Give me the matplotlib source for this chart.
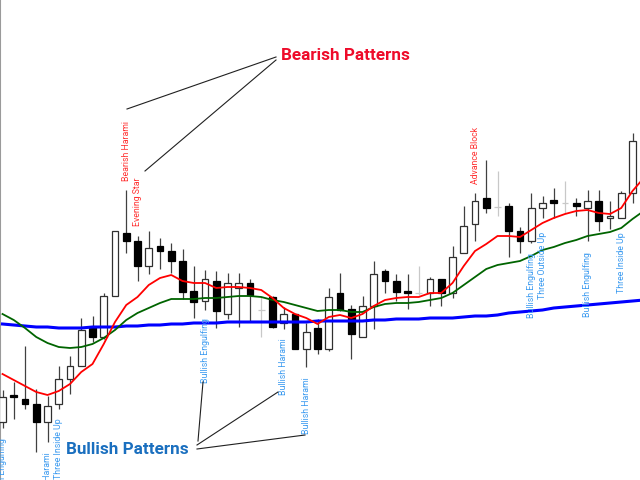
import matplotlib
matplotlib.use("Agg")
import matplotlib.pyplot as plt
import numpy as np
from matplotlib.lines import Line2D

# ---- candle data (price units, one value per bar) ----
opens = [58, 85, 81, 76, 58, 76, 101, 114, 153, 143, 184, 247, 239, 214, 234, 229, 219, 189, 179, 199,
         166, 192, 197, 170, 183, 157, 166, 131, 152, 131, 187, 171, 143, 174, 209, 199, 189, 187, 187, 201,
         187, 227, 256, 282, 273, 274, 249, 239, 272, 280, 277, 277, 272, 279, 262, 262, 287]
highs = [90, 98, 134, 91, 84, 114, 124, 162, 164, 187, 249, 290, 244, 249, 242, 237, 231, 214, 210, 209,
         207, 207, 201, 183, 184, 173, 166, 157, 161, 192, 207, 175, 184, 219, 211, 206, 206, 214, 203, 201,
         234, 274, 287, 320, 309, 277, 253, 287, 284, 292, 299, 282, 290, 290, 279, 289, 347]
lows = [52, 61, 71, 28, 38, 71, 86, 114, 138, 141, 184, 227, 199, 206, 211, 207, 181, 162, 170, 152,
        161, 153, 158, 143, 152, 151, 131, 113, 126, 129, 169, 121, 143, 151, 187, 179, 171, 185, 174, 174,
        182, 227, 239, 267, 264, 223, 227, 237, 262, 262, 267, 264, 239, 249, 251, 262, 277]
closes = [83, 83, 76, 58, 74, 101, 114, 150, 143, 184, 249, 239, 214, 232, 229, 219, 188, 178, 201, 169,
          197, 197, 185, 170, 153, 166, 131, 148, 131, 183, 170, 146, 174, 206, 199, 188, 187, 187, 201, 187,
          223, 254, 279, 272, 273, 249, 239, 272, 277, 277, 277, 274, 279, 259, 264, 287, 339]

# ---- moving averages (last point lies just past the right edge) ----
ma_fast = [106, 100, 94, 88, 85, 89, 96, 108, 116, 136, 158, 175, 183, 195, 202, 205, 199, 197, 197, 192,
           193, 193, 192, 190, 182, 172, 166, 162, 156, 163, 165, 162, 166, 174, 180, 182, 183, 183, 187, 187,
           197, 214, 229, 236, 244, 244, 243, 250, 257, 262, 266, 269, 270, 267, 266, 272, 289, 302]
ma_mid = [166, 160, 152, 143, 137, 133, 132, 133, 136, 142, 150, 160, 167, 172, 177, 181, 181, 181, 182, 182,
          183, 184, 184, 183, 180, 178, 175, 172, 169, 170, 170, 168, 168, 173, 176, 177, 177, 178, 180, 182,
          187, 195, 203, 211, 215, 217, 219, 224, 230, 233, 237, 240, 244, 246, 248, 252, 261, 269]
ma_slow = [156, 155, 154, 153, 153, 152, 152, 152, 153, 153, 153, 154, 154, 155, 155, 156, 156, 157, 157, 157,
           158, 158, 158, 158, 158, 158, 158, 158, 159, 159, 159, 159, 159, 160, 160, 161, 161, 161, 162, 162,
           162, 163, 164, 164, 165, 167, 168, 169, 170, 172, 173, 174, 175, 176, 177, 178, 179, 180]

# ---- pattern labels: text, bar index ----
bear_texts = ["Bearish Harami", "Evening Star", "Advance Block"]
bear_bars = [11, 12, 42]
bull_texts = ["Bullish Engulfing", "Bullish Harami", "Three Inside Up", "Bullish Engulfing",
              "Bullish Harami", "Bullish Harami", "Bullish Engulfing", "Three Outside Up",
              "Bullish Engulfing", "Three Inside Up"]
bull_bars = [0, 4, 5, 18, 25, 27, 47, 48, 52, 55]

# label top positions (layout, in price units)
bear_tops = [359, 303, 353]
bull_tops = [42, 28, 62, 162, 142, 103, 227, 248, 228, 248]

o = np.array(opens, float); h = np.array(highs, float)
l = np.array(lows, float); c = np.array(closes, float)
idx = np.arange(len(o))

fig = plt.figure(figsize=(6.4, 4.8), dpi=100)
ax = fig.add_axes([0, 0, 1, 1])
ax.set_xlim(-2.5 / 11.25, 637.5 / 11.25)
ax.set_ylim(0, 480)
ax.set_xticks([]); ax.set_yticks([])
for s in ["top", "right", "bottom"]:
    ax.spines[s].set_visible(False)
ax.spines["left"].set_color("#9a9a9a")
ax.spines["left"].set_linewidth(1.5)

doji = o == c
up = c > o
dn = c < o
wick_col = np.where(doji, "#c8c8c8", "#404040")
ax.vlines(idx, l, h, colors=wick_col, linewidth=0.9, zorder=2)
ax.bar(idx[up], (c - o)[up], bottom=o[up], width=0.62, color="white",
       edgecolor="#303030", linewidth=0.9, zorder=3)
ax.bar(idx[dn], (o - c)[dn], bottom=c[dn], width=0.62, color="black",
       edgecolor="black", linewidth=0.9, zorder=3)
ax.hlines(o[doji], idx[doji] - 0.3, idx[doji] + 0.3, colors="#c8c8c8", linewidth=0.9, zorder=3)

ax.plot(np.arange(len(ma_slow)), ma_slow, color="#0000ff", lw=2.2, zorder=4)
ax.plot(np.arange(len(ma_mid)), ma_mid, color="#006400", lw=1.3, zorder=5)
ax.plot(np.arange(len(ma_fast)), ma_fast, color="#ff0000", lw=1.3, zorder=6)

lab_font = ["Roboto", "DejaVu Sans"]
for t, b, y in zip(bear_texts, bear_bars, bear_tops):
    ax.text(b, y, t, rotation=90, ha="center", va="top", fontsize=6.3,
            color="#ff3030", family=lab_font, zorder=7)
for t, b, y in zip(bull_texts, bull_bars, bull_tops):
    ax.text(b, y, t, rotation=90, ha="center", va="top", fontsize=6.3,
            color="#3a9af0", family=lab_font, zorder=7)

title_font = ["Roboto", "DejaVu Sans"]
fig.text(281 / 640, 1 - 56 / 480, "Bearish Patterns", ha="left", va="center",
         fontsize=12.3, fontweight="bold", color="#ee0b2a", family=title_font)
fig.text(66 / 640, 1 - 450 / 480, "Bullish Patterns", ha="left", va="center",
         fontsize=12.3, fontweight="bold", color="#1a6fbf", family=title_font)

def leader(x1, y1, x2, y2):
    fig.add_artist(Line2D([x1 / 640, x2 / 640], [1 - y1 / 480, 1 - y2 / 480],
                          transform=fig.transFigure, color="#202020", lw=0.8))

leader(276, 57, 127, 109)
leader(276, 60, 145, 171)
leader(198, 441, 203, 382)
leader(197, 445, 278, 392)
leader(197, 449, 305, 435)

fig.savefig("out.png", dpi=100, facecolor="white")
